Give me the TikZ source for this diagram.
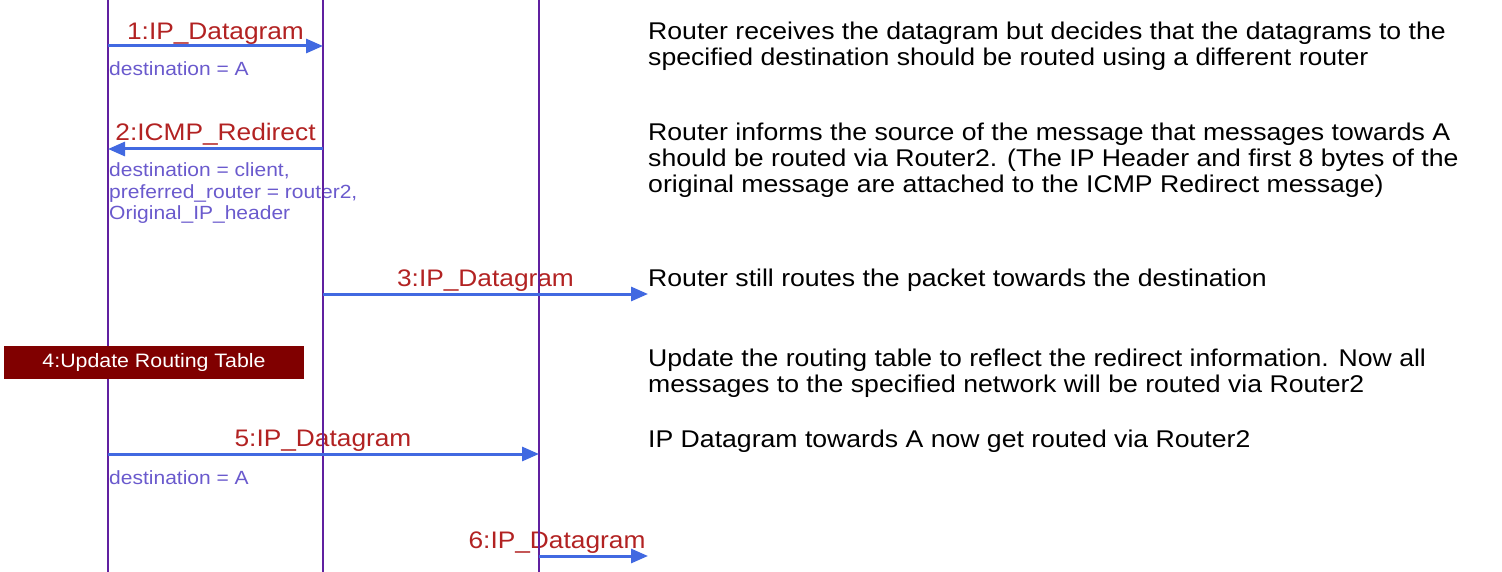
\documentclass[tikz,border=0pt]{standalone}
\usepackage{fontspec}
\setmainfont{Liberation Sans}[FakeStretch=1.1]
\usetikzlibrary{arrows.meta}
\definecolor{lifecol}{RGB}{96,32,160}
\definecolor{arrowcol}{RGB}{65,105,225}
\definecolor{labelred}{RGB}{178,34,34}
\definecolor{notecol}{RGB}{106,90,205}
\definecolor{boxred}{RGB}{128,0,0}
\begin{document}
\begin{tikzpicture}[x=1pt,y=-1pt,
  lbl/.style={text=labelred, font=\fontsize{23.9}{27}\selectfont, inner sep=0, anchor=base},
  note/.style={text=notecol, font=\fontsize{19.1}{21.5}\selectfont, inner sep=0, anchor=base west},
  desc/.style={text=black, font=\fontsize{24.2}{26}\selectfont, inner sep=0, anchor=base west},
  msg/.style={draw=arrowcol, line width=3pt, -{Triangle[length=17pt,width=14pt]}},
  lifeline/.style={draw=lifecol, line width=2.5pt},
  actbox/.style={fill=boxred, text=white, font=\fontsize{19.4}{21}\selectfont, minimum width=300pt, minimum height=33pt, inner sep=0}]
\useasboundingbox (0,0) rectangle (1502,572);

% lifeline end points
\coordinate (c1t) at (108,0);  \coordinate (c1b) at (108,572);
\coordinate (c2t) at (323,0);  \coordinate (c2b) at (323,572);
\coordinate (c3t) at (539,0);  \coordinate (c3b) at (539,572);

% message end points
\coordinate (m1a) at (108,46);  \coordinate (m1b) at (323,46);
\coordinate (m2a) at (323,149); \coordinate (m2b) at (108,149);
\coordinate (m3a) at (323,294); \coordinate (m3b) at (648,294);
\coordinate (m5a) at (108,454); \coordinate (m5b) at (539,454);
\coordinate (m6a) at (539,556); \coordinate (m6b) at (648,556);

% message labels
\node[lbl] (l1) at (215.5,39.5) {1:IP\_Datagram};
\node[lbl] (l2) at (215.5,141) {2:ICMP\_Redirect};
\node[lbl] (l3) at (485.5,286) {3:IP\_Datagram};
\node[lbl] (l5) at (323,446) {5:IP\_Datagram};
\node[lbl] (l6) at (557,548) {6:IP\_Datagram};

% parameters
\node[note] (n1) at (109,76) {destination = A};
\node[note] (n2a) at (109,177) {destination = client,};
\node[note] (n2b) at (109,198.5) {preferred\_router = router2,};
\node[note] (n2c) at (109,220) {Original\_IP\_header};
\node[note] (n5) at (109,484) {destination = A};

% descriptions
\node[desc] (d1a) at (648,40) {Router receives the datagram but decides that the datagrams to the};
\node[desc] (d1b) at (648,66) {specified destination should be routed using a different router};
\node[desc] (d2a) at (648,141) {Router informs the source of the message that messages towards A};
\node[desc] (d2b) at (648,167) {should be routed via Router2. (The IP Header and first 8 bytes of the};
\node[desc] (d2c) at (648,193) {original message are attached to the ICMP Redirect message)};
\node[desc] (d3) at (648,286) {Router still routes the packet towards the destination};
\node[desc] (d4a) at (648,366) {Update the routing table to reflect the redirect information. Now all};
\node[desc] (d4b) at (648,392) {messages to the specified network will be routed via Router2};
\node[desc] (d5) at (648,447) {IP Datagram towards A now get routed via Router2};

% lifelines
\draw[lifeline] (c1t) -- (c1b);
\draw[lifeline] (c2t) -- (c2b);
\draw[lifeline] (c3t) -- (c3b);

% messages
\draw[msg] (m1a) -- (m1b);
\draw[msg] (m2a) -- (m2b);
\draw[msg] (m3a) -- (m3b);
\draw[msg] (m5a) -- (m5b);
\draw[msg] (m6a) -- (m6b);

% self action
\node[actbox] (a4) at (154,362.5) {4:Update Routing Table};
\end{tikzpicture}
\end{document}
